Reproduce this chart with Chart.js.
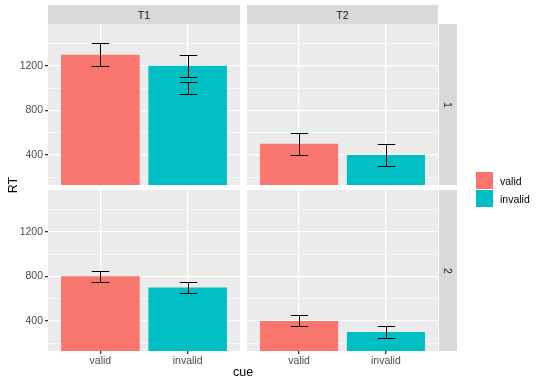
<!DOCTYPE html>
<html>
<head>
<meta charset="utf-8">
<script src="https://cdn.jsdelivr.net/npm/chart.js@4/dist/chart.umd.min.js"></script>
<style>
  body { margin: 0; background: #fff; font-family: "Liberation Sans", Arial, sans-serif; }
  #wrap { position: relative; width: 540px; height: 386px; overflow: hidden; }
  canvas { position: absolute; }
  .strip { position: absolute; background: #d9d9d9; color: #1a1a1a; font-size: 10.5px;
           display: flex; align-items: center; justify-content: center; }
  .strip span.rot { transform: rotate(90deg); display: inline-block; }
  .title { position: absolute; color: #000; font-size: 12.5px; }
  .key { position: absolute; width: 17px; height: 17px; }
  .keylab { position: absolute; font-size: 10.5px; color: #000; }
</style>
</head>
<body>
<div id="wrap">
  <div class="strip" style="left:48px;top:5px;width:192px;height:19px">T1</div>
  <div class="strip" style="left:247px;top:5px;width:191px;height:19px">T2</div>
  <div class="strip" style="left:439px;top:24px;width:18px;height:161px"><span class="rot">1</span></div>
  <div class="strip" style="left:439px;top:190px;width:18px;height:161px"><span class="rot">2</span></div>

  <canvas id="c11" width="240" height="161" style="left:0;top:24px"></canvas>
  <canvas id="c21" width="191" height="161" style="left:247px;top:24px"></canvas>
  <canvas id="c12" width="240" height="182" style="left:0;top:190px"></canvas>
  <canvas id="c22" width="191" height="182" style="left:247px;top:190px"></canvas>

  <div class="title" style="left:5px;top:178px;transform:rotate(-90deg);transform-origin:center">RT</div>
  <div class="title" style="left:233px;top:365px">cue</div>

  <div class="key" style="left:476px;top:172px;background:#F8766D"></div>
  <div class="key" style="left:476px;top:190px;background:#00BFC4"></div>
  <div class="keylab" style="left:500px;top:175px">valid</div>
  <div class="keylab" style="left:500px;top:193px">invalid</div>
</div>

<script>
// Data
const cues = ['valid', 'invalid'];
const cueColors = ['#F8766D', '#00BFC4'];
const yTicks = [200, 400, 600, 800, 1000, 1200, 1400];
const yLabels = [400, 800, 1200];

// mean RT per cue, for each time (T1/T2) and block (1/2)
const rtT1B1 = [1300, 1200];
const rtT2B1 = [500, 400];
const rtT1B2 = [800, 700];
const rtT2B2 = [400, 300];

// error bars: [cue index, low, high]
const errT1B1 = [[0, 1200, 1400], [1, 1100, 1300], [1, 950, 1050]];
const errT2B1 = [[0, 400, 600], [1, 300, 500]];
const errT1B2 = [[0, 750, 850], [1, 650, 750]];
const errT2B2 = [[0, 350, 450], [1, 250, 350]];

// Plugins
const panelBg = {
    id: 'panelBg',
    beforeDraw(chart) {
        const a = chart.chartArea;
        chart.ctx.save();
        chart.ctx.fillStyle = '#ebebeb';
        chart.ctx.fillRect(a.left, a.top, a.right - a.left, a.bottom - a.top);
        chart.ctx.restore();
    }
};

const errorBars = {
    id: 'errorBars',
    afterDatasetsDraw(chart, args, opts) {
        const x = chart.scales.x, y = chart.scales.y, ctx = chart.ctx;
        const a = chart.chartArea;
        ctx.save();
        ctx.beginPath();
        ctx.rect(a.left, a.top, a.right - a.left, a.bottom - a.top);
        ctx.clip();
        ctx.strokeStyle = '#000';
        ctx.lineWidth = 1;
        (opts.bars || []).forEach(([i, lo, hi]) => {
            const px = Math.round(x.getPixelForValue(i)) + 0.5;
            const half = x.getPixelForValue(i + 0.1) - x.getPixelForValue(i);
            const yl = Math.round(y.getPixelForValue(lo)) + 0.5;
            const yh = Math.round(y.getPixelForValue(hi)) + 0.5;
            ctx.beginPath();
            ctx.moveTo(px, yl); ctx.lineTo(px, yh);
            ctx.moveTo(px - half, yl); ctx.lineTo(px + half, yl);
            ctx.moveTo(px - half, yh); ctx.lineTo(px + half, yh);
            ctx.stroke();
        });
        ctx.restore();
    }
};

const isMajor = (v) => yLabels.includes(v);

function noPad(s) {
    s.paddingTop = 0; s.paddingBottom = 0;
    s.paddingLeft = 0; s.paddingRight = 0;
}

function makePanel(id, values, errs, showY, showX) {
    new Chart(document.getElementById(id), {
        type: 'bar',
        data: {
            datasets: [{
                data: values.map((v, i) => ({ x: i, y: v })),
                backgroundColor: cueColors,
                borderWidth: 0,
                barPercentage: 0.9,
                categoryPercentage: 1
            }]
        },
        options: {
            responsive: false,
            animation: false,
            layout: { padding: 0 },
            plugins: {
                legend: { display: false },
                tooltip: { enabled: false },
                errorBars: { bars: errs }
            },
            scales: {
                x: {
                    type: 'linear',
                    offset: false,
                    min: -0.6,
                    max: 1.6,
                    afterBuildTicks: (s) => { s.ticks = cues.map((c, i) => ({ value: i })); },
                    afterFit: (s) => { s.height = showX ? 21 : 0; noPad(s); },
                    border: { display: false },
                    grid: {
                        offset: false,
                        color: '#ffffff',
                        lineWidth: 1.3,
                        drawTicks: showX,
                        tickLength: 3,
                        tickColor: '#333333'
                    },
                    ticks: {
                        display: showX,
                        padding: 1,
                        color: '#4d4d4d',
                        font: { family: 'Liberation Sans', size: 10.5 },
                        callback: (v) => cues[v]
                    }
                },
                y: {
                    min: 130,
                    max: 1575,
                    afterBuildTicks: (s) => { s.ticks = yTicks.map(v => ({ value: v })); },
                    afterFit: (s) => { s.width = showY ? 48 : 0; noPad(s); },
                    border: { display: false },
                    grid: {
                        color: '#ffffff',
                        lineWidth: (c) => isMajor(c.tick.value) ? 1.3 : 0.6,
                        drawTicks: showY,
                        tickLength: 3,
                        tickColor: (c) => isMajor(c.tick.value) ? '#333333' : 'rgba(0,0,0,0)'
                    },
                    ticks: {
                        display: showY,
                        padding: 2,
                        color: '#4d4d4d',
                        font: { family: 'Liberation Sans', size: 10.5 },
                        callback: (v) => isMajor(v) ? v : ''
                    }
                }
            }
        },
        plugins: [panelBg, errorBars]
    });
}

makePanel('c11', rtT1B1, errT1B1, true, false);
makePanel('c21', rtT2B1, errT2B1, false, false);
makePanel('c12', rtT1B2, errT1B2, true, true);
makePanel('c22', rtT2B2, errT2B2, false, true);
</script>
</body>
</html>
